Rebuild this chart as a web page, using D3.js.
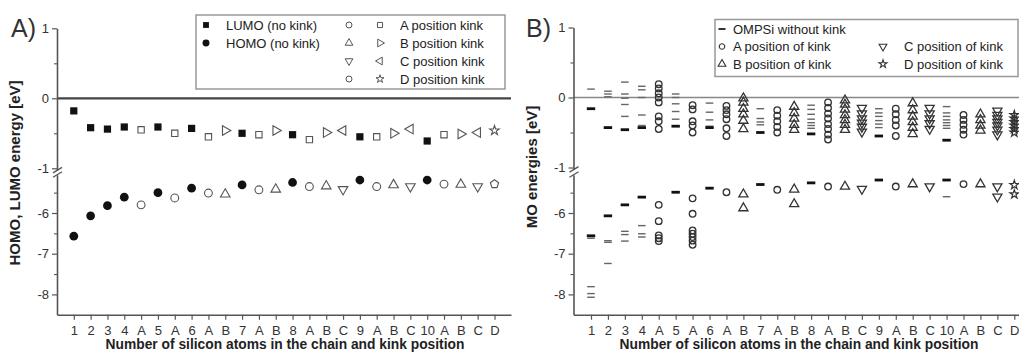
<!DOCTYPE html>
<html><head><meta charset="utf-8">
<script src="https://cdn.jsdelivr.net/npm/d3@7"></script>
<style>
body{margin:0;background:#fff}
svg{display:block}
text{font-family:"Liberation Sans",Arial,Helvetica,sans-serif}
</style>
</head><body>
<svg id="c" width="1019" height="354"></svg>
<script>
// ---------- DATA ----------
const categories = ["1","2","3","4","A","5","A","6","A","B","7","A","B","8","A","B","C","9","A","B","C","10","A","B","C","D"];
const noKinkIdx = [0,1,2,3,5,7,10,13,17,21];
const kinkIdxA = [4,6,8,11,14,18,22];
const kinkIdxB = [9,12,15,19,23];
const kinkIdxC = [16,20,24];
const kinkIdxD = [25];
const yTicksUpper = [1,0,-1];
const yTicksLower = [-6,-7,-8];

// Panel A : HOMO / LUMO energies (eV)
const lumoNoKink = [-0.18,-0.42,-0.44,-0.41,-0.41,-0.43,-0.50,-0.52,-0.55,-0.61];
const homoNoKink = [-6.57,-6.07,-5.82,-5.61,-5.50,-5.39,-5.31,-5.25,-5.19,-5.19];
const lumoKinkA = [-0.45,-0.50,-0.55,-0.52,-0.59,-0.55,-0.52];
const homoKinkA = [-5.80,-5.63,-5.51,-5.43,-5.35,-5.35,-5.29];
const lumoKinkB = [-0.46,-0.46,-0.49,-0.50,-0.51];
const homoKinkB = [-5.54,-5.42,-5.34,-5.31,-5.30];
const lumoKinkC = [-0.46,-0.44,-0.49];
const homoKinkC = [-5.42,-5.35,-5.35];
const lumoKinkD = [-0.46];
const homoKinkD = [-5.29];

// Panel B : all MO energies (eV), one list per column
const bNoKinkLumo = [-0.16,-0.43,-0.46,-0.43,-0.41,-0.43,-0.50,-0.52,-0.55,-0.61];
const bNoKinkHomo = [-6.56,-6.07,-5.80,-5.61,-5.49,-5.39,-5.30,-5.26,-5.19,-5.19];
const bNoKinkOther = [
  [0.12,-6.62,-7.81,-7.98,-8.07],
  [0.09,0.05,0.01,-6.68,-6.72,-7.24],
  [0.22,0.05,-0.01,-0.10,-0.27,-6.45,-6.53,-6.69],
  [0.16,0.11,0.0,-0.25,-0.40,-6.31,-6.51,-6.59],
  [0.05,0.0,-0.09,-0.20,-0.31],
  [-0.08,-0.21,-0.32,-0.41],
  [-0.16,-0.30,-0.35,-0.39],
  [-0.11,-0.17,-0.24,-0.31,-0.36,-0.40,-0.44],
  [-0.16,-0.22,-0.27,-0.33,-0.38,-0.43],
  [-0.13,-0.22,-0.27,-0.32,-0.36,-0.40,-0.44,-5.60]
];
const bKinkA = [
  [0.19,0.13,0.06,0.0,-0.07,-0.27,-0.34,-0.45,-5.80,-6.20,-6.55,-6.62,-6.69],
  [-0.11,-0.17,-0.34,-0.40,-0.50,-5.64,-6.02,-6.43,-6.51,-6.59,-6.68,-6.78],
  [-0.12,-0.18,-0.24,-0.31,-0.44,-0.55,-5.49],
  [-0.18,-0.26,-0.34,-0.42,-0.50,-5.43],
  [-0.07,-0.15,-0.23,-0.30,-0.38,-0.45,-0.53,-0.60,-5.35],
  [-0.16,-0.24,-0.32,-0.40,-0.55,-5.35],
  [-0.25,-0.32,-0.39,-0.46,-0.53,-5.29]
];
const bKinkB = [
  [-0.01,-0.07,-0.16,-0.24,-0.33,-0.45,-5.54,-5.88],
  [-0.13,-0.22,-0.30,-0.39,-0.46,-5.42,-5.78],
  [-0.04,-0.10,-0.17,-0.25,-0.32,-0.39,-0.46,-5.35],
  [-0.08,-0.18,-0.27,-0.35,-0.43,-0.52,-5.29],
  [-0.24,-0.32,-0.40,-0.47,-5.29]
];
const bKinkC = [
  [-0.15,-0.23,-0.30,-0.36,-0.42,-0.49,-5.41],
  [-0.15,-0.23,-0.30,-0.37,-0.45,-5.35],
  [-0.19,-0.25,-0.30,-0.35,-0.40,-0.46,-0.53,-5.35,-5.60]
];
const bKinkD = [
  [-0.25,-0.30,-0.35,-0.40,-0.45,-0.50,-5.31,-5.54]
];

// ---------- DRAWING ----------
const svg = d3.select("#c");
const INK = "#222", AX = "#555";

function makeY(y0) {
  const up = d3.scaleLinear().domain([-1, 1]).range([y0 + 70, y0 - 70]);
  const low = d3.scaleLinear().domain([-8, -6]).range([213 + 81.4, 213]);
  const f = v => (v > -3 ? up(v) : low(v));
  f.up = up; f.low = low;
  return f;
}

const symbolPentagon = { draw(ctx, size) {
  const r = Math.sqrt(size / (2.5 * Math.sin(2 * Math.PI / 5)));
  for (let i = 0; i < 5; i++) {
    const a = -Math.PI / 2 + i * 2 * Math.PI / 5;
    const px = r * Math.cos(a), py = r * Math.sin(a);
    i ? ctx.lineTo(px, py) : ctx.moveTo(px, py);
  }
  ctx.closePath();
}};

const SYM = {
  square: s => d3.symbol(d3.symbolSquare, s)(),
  circle: s => d3.symbol(d3.symbolCircle, s)(),
  tri: s => d3.symbol(d3.symbolTriangle, s)(),
  star: s => d3.symbol(d3.symbolStar, s)(),
  pent: s => d3.symbol(symbolPentagon, s)()
};
const ROT = { up: 0, down: 180, right: 90, left: -90 };

function marker(g, x, y, kind, size, rot, filled, stroke, sw) {
  g.append("path").attr("d", SYM[kind](size))
    .attr("transform", `translate(${x},${y}) rotate(${rot || 0})`)
    .attr("fill", filled ? "#111" : "none")
    .attr("stroke", filled ? "none" : stroke)
    .attr("stroke-width", sw);
}

function axes(g, x, y, axX, axEnd, xTitle, xTitleX, yTitle, yTitleX, yTitleY, label, labelX) {
  // x axis
  const xAx = d3.scaleLinear().domain([x.invert(axX), x.invert(axEnd)]).range([axX, axEnd]);
  const gx = g.append("g").attr("transform", `translate(0,${y(-8.5)})`)
    .call(d3.axisBottom(xAx).tickValues(d3.range(categories.length)).tickSize(5).tickSizeOuter(0)
      .tickFormat(i => categories[i]));
  gx.select(".domain").attr("stroke", AX).attr("stroke-width", 1.6);
  gx.selectAll(".tick line").attr("stroke", AX).attr("stroke-width", 1.2);
  gx.selectAll(".tick text").attr("font-size", 13).attr("fill", "#333").attr("dy", "0.95em")
    .attr("font-family", "Liberation Sans, Arial, sans-serif");

  // y axis, two segments
  const upS = d3.scaleLinear().domain([-1.03, 1]).range([y.up(-1.03), y.up(1)]);
  const lowS = d3.scaleLinear().domain([-8.5, -5.06]).range([y.low(-8.5), y.low(-5.06)]);
  [[upS, yTicksUpper, [0.5, -0.5]], [lowS, yTicksLower, [-5.5, -6.5, -7.5]]].forEach(([s, major, minor]) => {
    const ga = g.append("g").attr("transform", `translate(${axX},0)`)
      .call(d3.axisLeft(s).tickValues(major).tickSize(5).tickSizeOuter(0).tickPadding(3).tickFormat(d => String(d)));
    ga.select(".domain").attr("stroke", AX).attr("stroke-width", 1.6);
    ga.selectAll(".tick line").attr("stroke", AX).attr("stroke-width", 1.2);
    ga.selectAll(".tick text").attr("font-size", 13).attr("fill", "#333")
      .attr("font-family", "Liberation Sans, Arial, sans-serif");
    const gm = g.append("g").attr("transform", `translate(${axX},0)`)
      .call(d3.axisLeft(s).tickValues(minor).tickSize(3).tickSizeOuter(0).tickFormat(""));
    gm.select(".domain").remove();
    gm.selectAll(".tick line").attr("stroke", AX).attr("stroke-width", 1.1);
  });
  // break marks
  const b1 = y.up(-1.03), b2 = y.low(-5.06);
  [b1, b2].forEach(by => g.append("line").attr("x1", axX - 4).attr("y1", by + 2.5)
    .attr("x2", axX + 5).attr("y2", by - 3).attr("stroke", AX).attr("stroke-width", 1.3));

  // titles
  g.append("text").attr("x", xTitleX).attr("y", 349)
    .attr("text-anchor", "middle").attr("font-weight", "bold").attr("font-size", 13.8).attr("fill", INK)
    .text(xTitle);
  g.append("text").attr("transform", `translate(${yTitleX},${yTitleY}) rotate(-90)`)
    .attr("text-anchor", "middle").attr("font-weight", "bold").attr("font-size", 15).attr("fill", INK)
    .text(yTitle);
  g.append("text").attr("x", labelX).attr("y", 37).attr("font-size", 25).attr("fill", "#333").text(label);
}

// ---------- Panel A ----------
const xA = d3.scaleLinear().domain([0, 25]).range([73.8, 494.5]);
const yA = makeY(98.3);
const gA = svg.append("g");
gA.append("line").attr("x1", 57).attr("x2", 511).attr("y1", yA(0)).attr("y2", yA(0))
  .attr("stroke", "#444").attr("stroke-width", 2.2);
axes(gA, xA, yA, 57, 511, "Number of silicon atoms in the chain and kink position", 285,
  "HOMO, LUMO energy [eV]", 20, 173, "A)", 11);

const OPEN = "#555";
noKinkIdx.forEach((c, i) => {
  marker(gA, xA(c), yA(lumoNoKink[i]), "square", 52, 0, true);
  marker(gA, xA(c), yA(homoNoKink[i]), "circle", 60, 0, true);
});
kinkIdxA.forEach((c, i) => {
  marker(gA, xA(c), yA(lumoKinkA[i]), "square", 40, 0, false, OPEN, 1.1);
  marker(gA, xA(c), yA(homoKinkA[i]), "circle", 48, 0, false, OPEN, 1.1);
});
kinkIdxB.forEach((c, i) => {
  marker(gA, xA(c), yA(lumoKinkB[i]), "tri", 40, ROT.right, false, OPEN, 1.1);
  marker(gA, xA(c), yA(homoKinkB[i]), "tri", 40, ROT.up, false, OPEN, 1.1);
});
kinkIdxC.forEach((c, i) => {
  marker(gA, xA(c), yA(lumoKinkC[i]), "tri", 40, ROT.left, false, OPEN, 1.1);
  marker(gA, xA(c), yA(homoKinkC[i]), "tri", 40, ROT.down, false, OPEN, 1.1);
});
kinkIdxD.forEach((c, i) => {
  marker(gA, xA(c), yA(lumoKinkD[i]), "star", 28, 0, false, OPEN, 1.1);
  marker(gA, xA(c), yA(homoKinkD[i]), "pent", 44, 0, false, OPEN, 1.1);
});

// legend A
const lgA = gA.append("g");
lgA.append("rect").attr("x", 196).attr("y", 15).attr("width", 309).attr("height", 74)
  .attr("fill", "#fff").attr("stroke", "#999").attr("stroke-width", 1.5);
const rowsA = [25, 43, 61, 79];
marker(lgA, 206, rowsA[0], "square", 34, 0, true);
marker(lgA, 206, rowsA[1], "circle", 38, 0, true);
[["LUMO (no kink)", 0], ["HOMO (no kink)", 1]].forEach(([t, r]) =>
  lgA.append("text").attr("x", 226).attr("y", rowsA[r] + 4.5).attr("font-size", 13).attr("fill", INK).text(t));
marker(lgA, 349, rowsA[0], "circle", 28, 0, false, OPEN, 1);
marker(lgA, 380, rowsA[0], "square", 26, 0, false, OPEN, 1);
marker(lgA, 349, rowsA[1], "tri", 26, ROT.up, false, OPEN, 1);
marker(lgA, 380, rowsA[1], "tri", 26, ROT.right, false, OPEN, 1);
marker(lgA, 349, rowsA[2], "tri", 26, ROT.down, false, OPEN, 1);
marker(lgA, 380, rowsA[2], "tri", 26, ROT.left, false, OPEN, 1);
marker(lgA, 349, rowsA[3], "circle", 28, 0, false, OPEN, 1);
marker(lgA, 380, rowsA[3], "star", 20, 0, false, OPEN, 1);
["A position kink", "B position kink", "C position kink", "D position kink"].forEach((t, r) =>
  lgA.append("text").attr("x", 400).attr("y", rowsA[r] + 4.5).attr("font-size", 13).attr("fill", INK).text(t));

// ---------- Panel B ----------
const xB = d3.scaleLinear().domain([0, 25]).range([591, 1014.3]);
const yB = makeY(97.5);
const gB = svg.append("g");
gB.append("line").attr("x1", 573.5).attr("x2", 1019).attr("y1", yB(0)).attr("y2", yB(0))
  .attr("stroke", "#888").attr("stroke-width", 1.4);
axes(gB, xB, yB, 573.5, 1019, "Number of silicon atoms in the chain and kink position", 799,
  "MO energies [eV]", 537, 167, "B)", 526);

const BST = "#333";
noKinkIdx.forEach((c, i) => {
  bNoKinkOther[i].forEach(v => gB.append("rect").attr("x", xB(c) - 3.8).attr("y", yB(v) - 0.7)
    .attr("width", 7.6).attr("height", 1.4).attr("fill", "#666"));
  [bNoKinkLumo[i], bNoKinkHomo[i]].forEach(v => gB.append("rect").attr("x", xB(c) - 4.2).attr("y", yB(v) - 1.4)
    .attr("width", 8.4).attr("height", 2.8).attr("fill", "#111"));
});
kinkIdxA.forEach((c, i) => bKinkA[i].forEach(v => marker(gB, xB(c), yB(v), "circle", 34, 0, false, BST, 1.3)));
kinkIdxB.forEach((c, i) => bKinkB[i].forEach(v => marker(gB, xB(c), yB(v), "tri", 36, ROT.up, false, BST, 1.3)));
kinkIdxC.forEach((c, i) => bKinkC[i].forEach(v => marker(gB, xB(c), yB(v), "tri", 36, ROT.down, false, BST, 1.3)));
kinkIdxD.forEach((c, i) => bKinkD[i].forEach(v => marker(gB, xB(c), yB(v), "star", 24, 0, false, BST, 1.2)));

// legend B
const lgB = gB.append("g");
lgB.append("rect").attr("x", 715).attr("y", 19.5).attr("width", 303).attr("height", 57)
  .attr("fill", "#fff").attr("stroke", "#999").attr("stroke-width", 1.5);
const rowsB = [29, 46.5, 64];
lgB.append("rect").attr("x", 718.5).attr("y", rowsB[0] - 1).attr("width", 7).attr("height", 2).attr("fill", "#333");
marker(lgB, 722, rowsB[1], "circle", 24, 0, false, BST, 1.1);
marker(lgB, 722, rowsB[2], "tri", 26, ROT.up, false, BST, 1.1);
marker(lgB, 883, rowsB[1], "tri", 26, ROT.down, false, BST, 1.1);
marker(lgB, 883, rowsB[2], "star", 20, 0, false, BST, 1.1);
[["OMPSi without kink", 733, 0], ["A position of kink", 733, 1], ["B position of kink", 733, 2],
 ["C position of kink", 904, 1], ["D position of kink", 904, 2]].forEach(([t, x, r]) =>
  lgB.append("text").attr("x", x).attr("y", rowsB[r] + 4.5).attr("font-size", 13).attr("fill", INK).text(t));
</script>
</body></html>
